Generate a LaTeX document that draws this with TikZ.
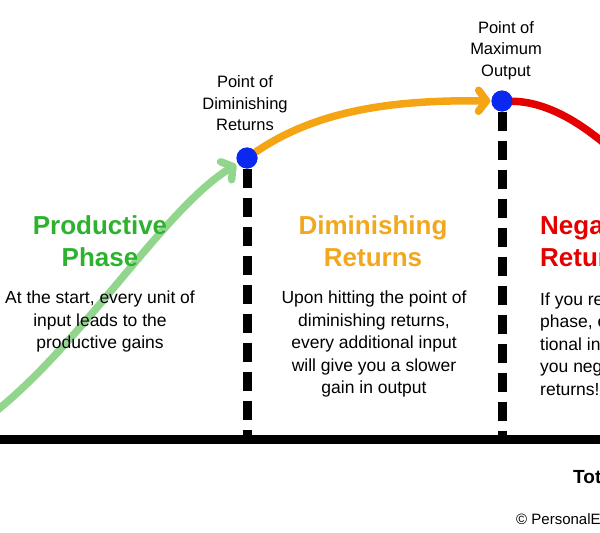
\documentclass[tikz,border=0pt]{standalone}
\usepackage{fontspec}
\setmainfont{Liberation Sans}
\usepackage[outline]{contour}
\contourlength{1.6pt}
\usetikzlibrary{arrows.meta}
\definecolor{pgreen}{RGB}{145,214,140}
\definecolor{tgreen}{RGB}{45,178,45}
\definecolor{porange}{RGB}{245,165,20}
\definecolor{torange}{RGB}{242,168,30}
\definecolor{tred}{RGB}{228,0,0}
\definecolor{pblue}{RGB}{10,40,240}
\newcommand{\hl}[1]{\contour{white}{#1}}
\begin{document}
\begin{tikzpicture}[x=1pt,y=-1pt,
  dot/.style={circle,fill=pblue,minimum size=21pt,inner sep=0},
  ptlabel/.style={align=center,font=\fontsize{16.5}{21.5}\selectfont,inner sep=0},
  body/.style={font=\fontsize{17.5}{22.5}\selectfont,inner sep=0},
  head/.style={font=\fontsize{26}{32}\selectfont\bfseries,inner sep=0},
  curve/.style={line width=7.5pt,line cap=round},
  tip/.style={-{Straight Barb[length=8pt,width=21pt,round]}},
  vdash/.style={line width=9pt,dash pattern=on 19pt off 10pt},
]
\useasboundingbox (0,0) rectangle (600,533);
\clip (0,0) rectangle (600,533);
\coordinate (gstart) at (-5,412);
\coordinate (rend) at (612,150);
\coordinate (axl) at (0,439.5);
\coordinate (axr) at (600,439.5);
\node[dot] (pd) at (247,158) {};
\node[dot] (pm) at (502,101) {};
\coordinate (pdb) at (247,435);
\coordinate (pmb) at (502,435);
% dashed verticals
\draw[vdash] (pd.south) -- (pdb);
\draw[vdash] (pm.south) -- (pmb);
% axis
\draw[line width=9pt] (axl) -- (axr);
% curves
\draw[curve,pgreen,tip,shorten >=2pt] (gstart) .. controls (85,340) and (165,208) .. (pd);
\draw[curve,porange,tip,shorten >=1pt] (pd) .. controls (320,108) and (400,100) .. (pm);
\draw[curve,tred] (pm) .. controls (545,102) and (578,120) .. (rend);
\node[dot] at (pd) {};
\node[dot] at (pm) {};
% labels
\node[ptlabel] (lpd) at (245,103.5) {Point of\\Diminishing\\Returns};
\node[ptlabel] (lpm) at (506,50.5) {Point of\\Maximum\\Output};
% headings
\node[head,align=center,text=tgreen] (hprod) at (100,241) {\hl{Productive}\\\hl{Phase}};
\node[head,align=center,text=torange] (hdim) at (373,241) {Diminishing\\Returns};
\node[head,align=left,text=tred,anchor=west] (hneg) at (540,241) {Negative\\Returns};
% bodies
\node[body,align=center] (bprod) at (100,321.5) {\hl{At the start, every unit of}\\\hl{input leads to the}\\\hl{productive gains}};
\node[body,align=center] (bdim) at (374,344) {Upon hitting the point of\\diminishing returns,\\every additional input\\will give you a slower\\gain in output};
\node[body,align=left,anchor=west] (bneg) at (540,344) {If you reach this\\phase, every addi-\\tional input will give\\you negative\\returns!};
% bottom
\node[font=\fontsize{19}{22}\selectfont\bfseries,inner sep=0,anchor=base west] (xlab) at (573,483) {Total Input};
\node[font=\fontsize{15}{18}\selectfont,inner sep=0,anchor=base west] (copy) at (516,524) {© PersonalExcellence.co};
\end{tikzpicture}
\end{document}
